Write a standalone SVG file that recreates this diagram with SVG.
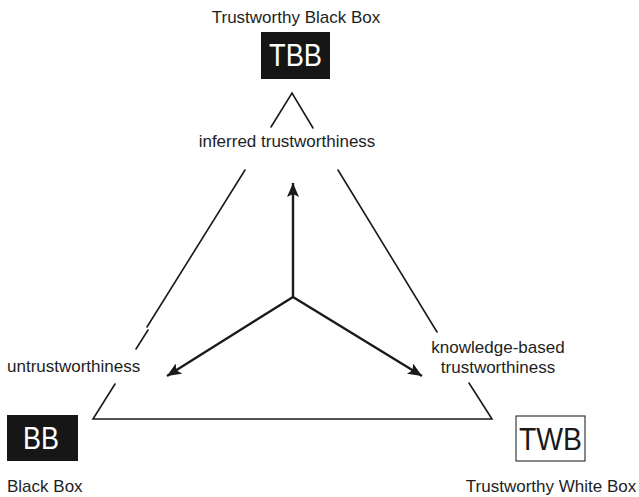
<svg xmlns="http://www.w3.org/2000/svg" width="639" height="497" viewBox="0 0 639 497">
  <style>
    .lbl { font-family: "Liberation Sans", Arial, sans-serif; font-size: 17px; fill: #1e1e1e; }
    .box-dark { fill: #161616; }
    .box-light { fill: #ffffff; stroke: #3a3a3a; stroke-width: 1.2; }
    .code { font-family: "Liberation Sans", Arial, sans-serif; font-size: 31px; }
    .edge { stroke: #1a1a1a; stroke-width: 1.6; fill: none; stroke-linecap: round; }
    .axis { stroke: #1a1a1a; stroke-width: 2.4; fill: none; }
  </style>
  <defs>
    <marker id="head" markerUnits="userSpaceOnUse" markerWidth="16" markerHeight="12" refX="14" refY="6" orient="auto">
      <path d="M0,0 L14,6 L0,12 L3,6 Z" fill="#1a1a1a"/>
    </marker>
  </defs>
  <rect width="639" height="497" fill="#ffffff"/>

  <!-- triangle sides, broken where labels sit -->
  <g id="connectors">
    <path class="edge" d="M271,127 L292,93 L313,128"/>
    <path class="edge" d="M245,170 L147,327"/>
    <path class="edge" d="M148,330 L136,349"/>
    <path class="edge" d="M115,384 L93,419 L492,419 L469,383"/>
    <path class="edge" d="M338,170 L437,332"/>
    <!-- three axes from the centre -->
    <path class="axis" d="M293,297 L293,183" marker-end="url(#head)"/>
    <path class="axis" d="M293,297 L422,376" marker-end="url(#head)"/>
    <path class="axis" d="M293,297 L167,376" marker-end="url(#head)"/>
  </g>

  <g id="tbb">
    <text class="lbl" x="296" y="23" text-anchor="middle">Trustworthy Black Box</text>
    <rect class="box-dark" x="261" y="32" width="69" height="47"/>
    <text class="code" x="295.5" y="66" text-anchor="middle" fill="#ffffff" textLength="53" lengthAdjust="spacingAndGlyphs">TBB</text>
  </g>

  <g id="bb">
    <rect class="box-dark" x="7" y="415" width="71" height="46"/>
    <text class="code" x="41" y="449" text-anchor="middle" fill="#ffffff" textLength="36" lengthAdjust="spacingAndGlyphs">BB</text>
    <text class="lbl" x="7" y="492">Black Box</text>
  </g>

  <g id="twb">
    <rect class="box-light" x="516" y="416" width="69" height="45"/>
    <text class="code" x="550.5" y="450" text-anchor="middle" fill="#1a1a1a" textLength="63" lengthAdjust="spacingAndGlyphs">TWB</text>
    <text class="lbl" x="551" y="492" text-anchor="middle">Trustworthy White Box</text>
  </g>

  <g id="inferred">
    <text class="lbl" x="287" y="147" text-anchor="middle">inferred trustworthiness</text>
  </g>

  <g id="untrust">
    <text class="lbl" x="7" y="372" font-size="16.5">untrustworthiness</text>
  </g>

  <g id="knowledge">
    <text class="lbl" x="498" y="353" text-anchor="middle">knowledge-based</text>
    <text class="lbl" x="498" y="373" text-anchor="middle">trustworthiness</text>
  </g>
</svg>
